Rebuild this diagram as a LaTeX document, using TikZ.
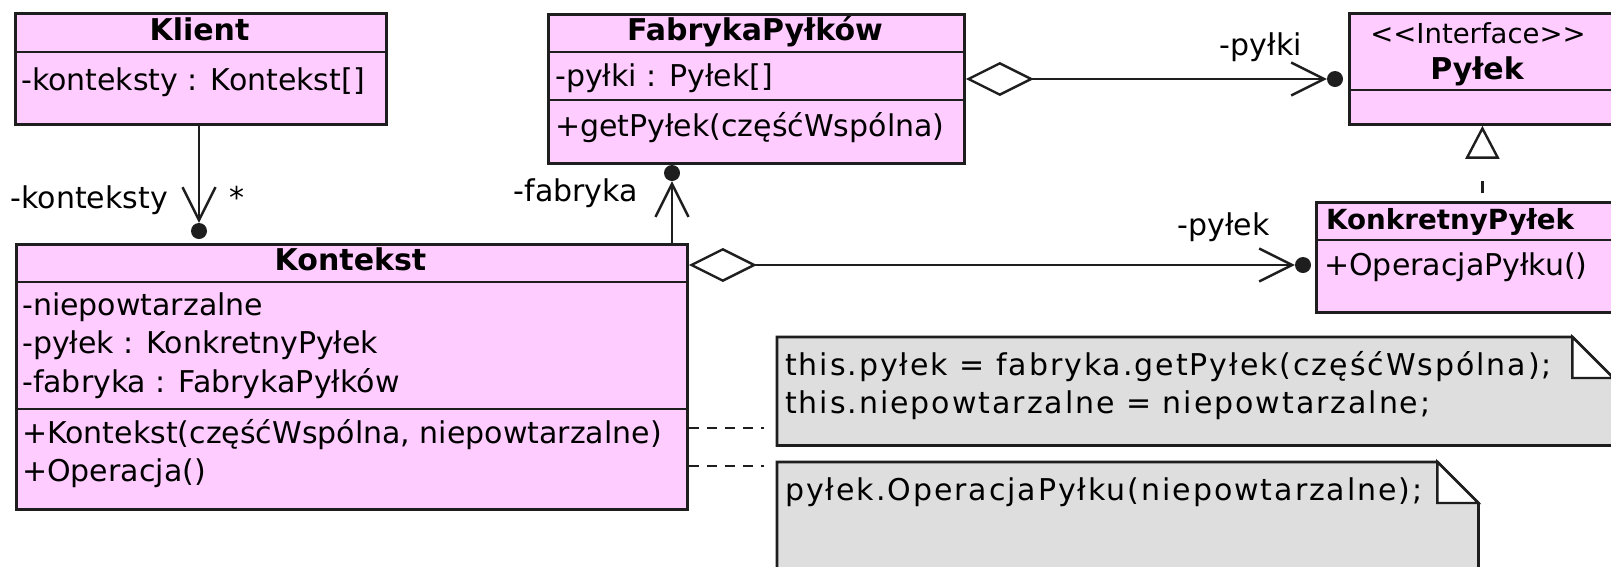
\documentclass[tikz,border=0pt]{standalone}
\usepackage{fontspec}
\setmainfont{DejaVu Sans}
\newfontfamily\notefont[LetterSpace=6.5]{DejaVu Sans}
\usetikzlibrary{arrows.meta}
\definecolor{umlpink}{HTML}{FFCCFF}
\definecolor{notegray}{HTML}{DEDEDE}
\definecolor{lc}{HTML}{1E1E1E}
\tikzset{
  classbox/.style={draw=lc, fill=umlpink, line width=2.8pt, anchor=north west, inner sep=0pt, rectangle},
  divider/.style={draw=lc, line width=2.6pt},
  txt/.style={anchor=west, text height=22pt, text depth=6pt, inner sep=0pt},
  ctxt/.style={anchor=center, text height=22pt, text depth=6pt, inner sep=0pt},
  etxt/.style={anchor=east, text height=22pt, text depth=6pt, inner sep=0pt},
  navdot/.style={circle, fill=lc, draw=none, inner sep=0pt, minimum size=16pt},
  assoc/.style={draw=lc, line width=2.4pt, {Diamond[open, length=68pt, width=34pt]}-{Straight Barb[length=33pt, width=33pt]}},
  nav/.style={draw=lc, line width=2.4pt, -{Straight Barb[length=33pt, width=33pt]}},
  realize/.style={draw=lc, line width=2.4pt, dash pattern=on 12pt off 29pt, dash phase=33pt, -{Triangle[open, length=33pt, width=34pt]}},
  notelink/.style={draw=lc, line width=2.4pt, dash pattern=on 10pt off 8pt},
  notebox/.style={draw=lc, fill=notegray, line width=2.8pt},
  notefold/.style={draw=lc, fill=white, line width=2.4pt},
  notearea/.style={anchor=north west, inner sep=0pt, draw=none, rectangle},
}
\begin{document}
\begin{tikzpicture}[x=1pt, y=-1pt, every node/.append style={font=\fontsize{30}{36}\selectfont}]
\useasboundingbox (0,0) rectangle (1611,566);
\clip (0,0) rectangle (1611,566);
\fill[white] (0,0) rectangle (1611,566);

% ---- Klient
\node[classbox, minimum width=371pt, minimum height=111pt] (klient) at (14,12) {};
\draw[divider] ([yshift=-40pt]klient.north west) -- ([yshift=-40pt]klient.north east);
\node[ctxt] (klientT) at (199.5,32) {\bfseries Klient};
\node[txt] (klientA) at (21,82) {-konteksty : Kontekst[]};

% ---- FabrykaPylkow
\node[classbox, minimum width=416pt, minimum height=149pt] (fabryka) at (547,13) {};
\draw[divider] ([yshift=-39pt]fabryka.north west) -- ([yshift=-39pt]fabryka.north east);
\draw[divider] ([yshift=-87pt]fabryka.north west) -- ([yshift=-87pt]fabryka.north east);
\node[ctxt] (fabrykaT) at (755,32) {\bfseries FabrykaPyłków};
\node[txt] (fabrykaA) at (555,78) {-pyłki : Pyłek[]};
\node[txt] (fabrykaM) at (555,128) {+getPyłek(częśćWspólna)};

% ---- Pylek (interface)
\node[classbox, minimum width=266pt, minimum height=111pt] (pylek) at (1348,12) {};
\draw[divider] ([yshift=-78pt]pylek.north west) -- ([yshift=-78pt]pylek.north east);
\node[anchor=base, inner sep=0pt, font=\fontsize{27.5}{33}\selectfont] (pylekS) at (1478,43) {<{}<Interface>{}>};
\node[ctxt] (pylekT) at (1477,71) {\bfseries Pyłek};

% ---- KonkretnyPylek
\node[classbox, minimum width=300pt, minimum height=110pt] (konkretny) at (1315,201) {};
\draw[divider] ([yshift=-39pt]konkretny.north west) -- ([yshift=-39pt]konkretny.north east);
\node[txt, font=\fontsize{27.7}{33}\selectfont] (konkretnyT) at (1326,221) {\bfseries KonkretnyPyłek};
\node[txt] (konkretnyM) at (1324,267) {+OperacjaPyłku()};

% ---- Kontekst
\node[classbox, minimum width=671pt, minimum height=265pt] (kontekst) at (15,243) {};
\draw[divider] ([yshift=-39pt]kontekst.north west) -- ([yshift=-39pt]kontekst.north east);
\draw[divider] ([yshift=-166pt]kontekst.north west) -- ([yshift=-166pt]kontekst.north east);
\node[ctxt] (kontekstT) at (350.5,262) {\bfseries Kontekst};
\node[txt] (kontekstA1) at (22,307) {-niepowtarzalne};
\node[txt] (kontekstA2) at (22,345) {-pyłek : KonkretnyPyłek};
\node[txt] (kontekstA3) at (22,384) {-fabryka : FabrykaPyłków};
\node[txt] (kontekstM1) at (22,435) {+Kontekst(częśćWspólna, niepowtarzalne)};
\node[txt] (kontekstM2) at (22,473) {+Operacja()};

% ---- notes
\node[notearea, minimum width=836pt, minimum height=108pt] (note1) at (777,337) {};
\draw[notebox] (note1.north west) -- ([xshift=-41pt]note1.north east) -- ([yshift=-41pt]note1.north east)
  -- (note1.south east) -- (note1.south west) -- cycle;
\draw[notefold] ([xshift=-41pt]note1.north east) -- ([xshift=-41pt,yshift=-41pt]note1.north east)
  -- ([yshift=-41pt]note1.north east) -- cycle;
\node[txt] (note1A) at (785,367) {\notefont this.pyłek = fabryka.getPyłek(częśćWspólna);};
\node[txt] (note1B) at (785,405) {\notefont this.niepowtarzalne = niepowtarzalne;};

\node[notearea, minimum width=701pt, minimum height=150pt] (note2) at (777,462) {};
\draw[notebox] (note2.north west) -- ([xshift=-41pt]note2.north east) -- ([yshift=-41pt]note2.north east)
  -- (note2.south east) -- (note2.south west) -- cycle;
\draw[notefold] ([xshift=-41pt]note2.north east) -- ([xshift=-41pt,yshift=-41pt]note2.north east)
  -- ([yshift=-41pt]note2.north east) -- cycle;
\node[txt] (note2A) at (785,492) {\notefont pyłek.OperacjaPyłku(niepowtarzalne);};

% ---- navigability dots
\node[navdot] (dotKl) at (199,231) {};
\node[navdot] (dotFab) at (672,173) {};
\node[navdot] (dotPylki) at (1335,79) {};
\node[navdot] (dotPylek) at (1303,265) {};

% ---- connectors
\draw[nav] (dotKl |- klient.south) -- (dotKl.north);
\draw[nav] (dotFab |- kontekst.north) -- (dotFab.south);
\draw[assoc] (fabryka.east |- dotPylki) -- (dotPylki.west);
\draw[assoc] (kontekst.east |- dotPylek) -- (dotPylek.west);
\draw[realize] (pylek.south |- konkretny.north) -- (pylek.south);
\coordinate (d1) at (764,428);
\coordinate (d2) at (764,466);
\draw[notelink] (kontekst.east |- d1) -- (d1);
\draw[notelink] (kontekst.east |- d2) -- (d2);

% ---- labels
\node[etxt] (lblKonteksty) at (168,200) {-konteksty};
\node[ctxt] (lblStar) at (237,200) {*};
\node[etxt] (lblFabryka) at (638,193) {-fabryka};
\node[etxt] (lblPylki) at (1302,47) {-pyłki};
\node[etxt] (lblPylek) at (1270,227) {-pyłek};
\end{tikzpicture}
\end{document}
